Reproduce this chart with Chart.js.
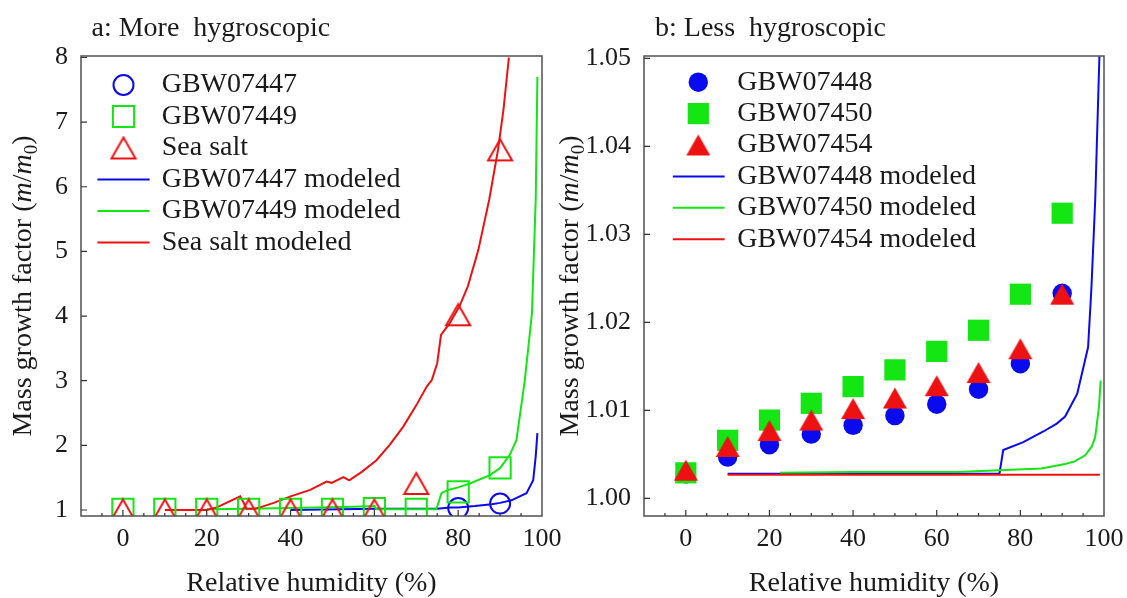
<!DOCTYPE html>
<html lang="en">
<head>
<meta charset="UTF-8" />
<title>Mass growth factor vs relative humidity</title>
<script src="https://cdn.jsdelivr.net/npm/chart.js@4.4.1/dist/chart.umd.min.js"></script>
<style>
  body { margin: 0; background: #fff; }
  #wrap { position: relative; width: 1127px; height: 598px; }
  canvas { position: absolute; top: 0; }
  #chartA { left: 0; }
  #chartB { left: 556px; }
</style>
</head>
<body>
<div id="wrap">
  <canvas id="chartA" width="580" height="598"></canvas>
  <canvas id="chartB" width="571" height="598"></canvas>
</div>

<script>
// ---- panel a: more hygroscopic ----
const rhObs = [0, 10, 20, 30, 40, 50, 60, 70, 80, 90]
const gbw07447RH = [80, 90]
const gbw07447Obs = [1.03, 1.10]
const gbw07449Obs = [1.01, 1.01, 1.01, 1.01, 1.01, 1.01, 1.02, 1.01, 1.28, 1.65]
const seaSaltObs = [1.0, 1.0, 1.0, 1.0, 1.0, 1.0, 1.0, 1.41, 4.02, 6.57]

const gbw07447ModRH = [40, 60, 75, 78, 80, 84, 88, 90, 92.7, 96.3, 97.9, 98.5, 98.9]
const gbw07447Mod = [1.0, 1.02, 1.02, 1.04, 1.04, 1.06, 1.09, 1.11, 1.15, 1.26, 1.46, 1.83, 2.19]
const gbw07449ModRH = [20, 30, 40, 55, 60, 60.5, 70, 74.8, 76.0, 77.6, 80, 82.8, 87.6, 90, 92.3, 93.9, 95.9, 97.6, 98.5, 98.9]
const gbw07449Mod = [1.01, 1.02, 1.03, 1.05, 1.06, 1.01, 1.01, 1.01, 1.26, 1.31, 1.35, 1.41, 1.54, 1.65, 1.85, 2.08, 3.01, 4.04, 5.8, 7.7]
const seaSaltModRH = [10, 20, 22.4, 28.0, 28.6, 29.5, 31.5, 32.7, 36, 40, 44.7, 48.6, 49.8, 52.6, 54.0, 57.0, 60.5, 63.7, 66.9, 70.1, 72.5, 73.7, 75.0, 75.9, 78.0, 80.3, 82.3, 84.8, 87.4, 89.5, 90.8, 92.1]
const seaSaltMod = [1.0, 1.0, 1.04, 1.21, 1.14, 1.02, 1.02, 1.04, 1.11, 1.21, 1.31, 1.44, 1.42, 1.51, 1.46, 1.59, 1.77, 2.01, 2.29, 2.63, 2.91, 3.01, 3.27, 3.71, 3.89, 4.15, 4.46, 5.02, 5.80, 6.57, 7.19, 8.0]

// ---- panel b: less hygroscopic ----
const gbw07448Obs = [1.0028, 1.0047, 1.0061, 1.0073, 1.0083, 1.0094, 1.0107, 1.0124, 1.0153, 1.0233]
const gbw07450Obs = [1.0029, 1.0066, 1.0089, 1.0108, 1.0127, 1.0146, 1.0167, 1.0191, 1.0232, 1.0324]
const gbw07454Obs = [1.0032, 1.0059, 1.0077, 1.0089, 1.0102, 1.0114, 1.0128, 1.0143, 1.0170, 1.0232]

const gbw07448ModRH = [10, 75, 75.9, 80.7, 85.5, 88.7, 90.7, 93.6, 96.2, 97.0, 97.9, 98.9]
const gbw07448Mod = [1.0028, 1.0028, 1.0055, 1.0064, 1.0076, 1.0085, 1.0093, 1.0119, 1.0172, 1.0240, 1.0339, 1.0502]
const gbw07450ModRH = [22.5, 40, 65, 75, 85, 90.7, 93, 95.5, 97.1, 97.9, 98.8, 99.2]
const gbw07450Mod = [1.0029, 1.0030, 1.0030, 1.0032, 1.0034, 1.0039, 1.0042, 1.0049, 1.0059, 1.0070, 1.0104, 1.0134]
const gbw07454ModRH = [10, 99]
const gbw07454Mod = [1.0027, 1.0027]

const xTickVals = [0, 20, 40, 60, 80, 100]
const yTickValsA = [1, 2, 3, 4, 5, 6, 7, 8]
const yTickValsB = [1.00, 1.01, 1.02, 1.03, 1.04, 1.05]

const BLUE = '#0a0af0'
const GREEN = '#14e614'
const RED = '#ee1111'
const SERIF = '"Liberation Serif", "Times New Roman", serif'

Chart.defaults.font.family = SERIF
Chart.defaults.color = '#1a1a1a'

function pts(xs, ys) {
  return xs.map((x, i) => ({ x: x, y: ys[i] }))
}

// triangle marker centred on its bounding box (like the original software)
function triangleImg(filled) {
  const w = 24, h = 21
  const c = document.createElement('canvas')
  c.width = w + 4
  c.height = h + 4
  const g = c.getContext('2d')
  g.beginPath()
  g.moveTo(c.width / 2, 2)
  g.lineTo(c.width / 2 + w / 2, 2 + h)
  g.lineTo(c.width / 2 - w / 2, 2 + h)
  g.closePath()
  if (filled) {
    g.fillStyle = RED
    g.fill()
  } else {
    g.strokeStyle = RED
    g.lineWidth = 2
    g.stroke()
  }
  return c
}
const triHollow = triangleImg(false)
const triFilled = triangleImg(true)

function drawMarker(ctx, ds, x, y) {
  const style = ds.pointStyle
  const r = ds.pointRadius
  ctx.save()
  ctx.lineWidth = ds.pointBorderWidth
  ctx.strokeStyle = ds.pointBorderColor
  ctx.fillStyle = ds.pointBackgroundColor
  if (style instanceof HTMLCanvasElement) {
    ctx.drawImage(style, x - style.width / 2, y - style.height / 2)
  } else if (style === 'circle') {
    ctx.beginPath()
    ctx.arc(x, y, r, 0, Math.PI * 2)
    ctx.fill()
    if (ds.pointBorderWidth) ctx.stroke()
  } else if (style === 'rect') {
    const s = r * Math.SQRT1_2
    ctx.beginPath()
    ctx.rect(x - s, y - s, 2 * s, 2 * s)
    ctx.fill()
    if (ds.pointBorderWidth) ctx.stroke()
  }
  ctx.restore()
}

function drawYTitle(ctx, baseX, midY) {
  const parts = [
    { t: 'Mass growth factor (', f: '28px ' + SERIF, dy: 0 },
    { t: 'm', f: 'italic 28px ' + SERIF, dy: 0 },
    { t: '/', f: '28px ' + SERIF, dy: 0 },
    { t: 'm', f: 'italic 28px ' + SERIF, dy: 0 },
    { t: '0', f: '19px ' + SERIF, dy: 6 },
    { t: ')', f: '28px ' + SERIF, dy: 0 },
  ]
  let total = 0
  parts.forEach((p) => {
    ctx.font = p.f
    p.w = ctx.measureText(p.t).width
    total += p.w
  })
  ctx.save()
  ctx.translate(baseX, midY)
  ctx.rotate(-Math.PI / 2)
  ctx.fillStyle = '#1a1a1a'
  ctx.textBaseline = 'alphabetic'
  ctx.textAlign = 'left'
  let x = -total / 2
  parts.forEach((p) => {
    ctx.font = p.f
    ctx.fillText(p.t, x, p.dy)
    x += p.w
  })
  ctx.restore()
}

function decoPlugin(cfg) {
  return {
    id: 'deco',
    afterDatasetsDraw(chart) {
      const ctx = chart.ctx
      const a = chart.chartArea
      const xs = chart.scales.x
      const ys = chart.scales.y
      ctx.save()

      // frame
      ctx.strokeStyle = '#505050'
      ctx.lineWidth = 1.5
      ctx.strokeRect(a.left, a.top, a.right - a.left, a.bottom - a.top)

      // inward ticks
      ctx.strokeStyle = '#333'
      ctx.lineWidth = 1.2
      ctx.beginPath()
      for (let v = -5; v < 100; v += 5) {
        const px = xs.getPixelForValue(v)
        const len = v % 20 === 0 ? 6 : 3
        ctx.moveTo(px, a.bottom)
        ctx.lineTo(px, a.bottom - len)
      }
      cfg.yTicks.forEach((v) => {
        const py = ys.getPixelForValue(v)
        ctx.moveTo(a.left, py)
        ctx.lineTo(a.left + 6, py)
      })
      ctx.stroke()

      // panel title
      ctx.fillStyle = '#1a1a1a'
      ctx.font = '28px ' + SERIF
      ctx.textAlign = 'left'
      ctx.textBaseline = 'alphabetic'
      ctx.fillText(cfg.title, a.left + cfg.titleDx, 36)

      // y title
      drawYTitle(ctx, cfg.yTitleX, (a.top + a.bottom) / 2)

      // legend inside the plot
      const L = cfg.legend
      chart.data.datasets.forEach((ds, i) => {
        const y = a.top + L.top + i * L.gap
        if (ds.showLine) {
          ctx.strokeStyle = ds.borderColor
          ctx.lineWidth = ds.borderWidth
          ctx.beginPath()
          ctx.moveTo(a.left + L.line0, y)
          ctx.lineTo(a.left + L.line1, y)
          ctx.stroke()
        } else {
          drawMarker(ctx, ds, a.left + L.marker, y)
        }
        ctx.fillStyle = '#1a1a1a'
        ctx.font = '28px ' + SERIF
        ctx.textBaseline = 'middle'
        ctx.fillText(ds.label, a.left + L.text, y)
      })
      ctx.restore()
    },
  }
}

function obsSet(label, data, style, radius, color, filled, order) {
  return {
    label: label,
    data: data,
    showLine: false,
    pointStyle: style,
    pointRadius: radius,
    pointBorderWidth: filled ? 0 : 2,
    pointBorderColor: color,
    pointBackgroundColor: filled ? color : 'rgba(0,0,0,0)',
    borderColor: color,
    backgroundColor: filled ? color : 'rgba(0,0,0,0)',
    order: order,
  }
}

function modSet(label, data, color, order) {
  return {
    label: label,
    data: data,
    showLine: true,
    pointRadius: 0,
    borderWidth: 2,
    borderColor: color,
    backgroundColor: color,
    fill: false,
    tension: 0,
    order: order,
  }
}

function makeChart(id, cfg, datasets) {
  return new Chart(id, {
    type: 'scatter',
    data: { datasets: datasets },
    options: {
      responsive: false,
      animation: false,
      events: [],
      layout: { padding: { top: 56, right: cfg.padRight, bottom: 0, left: 0 } },
      plugins: { legend: { display: false }, tooltip: { enabled: false } },
      scales: {
        x: {
          type: 'linear',
          min: -10,
          max: 100,
          grid: { display: false },
          border: { display: false },
          afterBuildTicks: (s) => { s.ticks = xTickVals.map((v) => ({ value: v })) },
          afterFit: (s) => {
            s.height = 82
            s.paddingLeft = 0
            s.paddingRight = 0
          },
          ticks: {
            autoSkip: false,
            maxRotation: 0,
            padding: 0,
            font: { size: 26 },
            color: '#1a1a1a',
          },
          title: {
            display: true,
            text: 'Relative humidity (%)',
            font: { size: 28, lineHeight: 1 },
            padding: { top: 0, bottom: 0 },
            color: '#1a1a1a',
          },
        },
        y: {
          type: 'linear',
          min: cfg.yMin,
          max: cfg.yMax,
          grid: { display: false },
          border: { display: false },
          afterBuildTicks: (s) => { s.ticks = cfg.yTicks.map((v) => ({ value: v })) },
          afterFit: (s) => {
            s.width = cfg.yWidth
            s.paddingTop = 0
            s.paddingBottom = 0
          },
          ticks: {
            autoSkip: false,
            padding: 5,
            font: { size: 26 },
            color: '#1a1a1a',
            callback: cfg.fmt,
          },
        },
      },
    },
    plugins: [decoPlugin(cfg)],
  })
}

makeChart('chartA', {
  title: 'a: More  hygroscopic',
  titleDx: 10.5,
  yTitleX: 31,
  padRight: 38,
  yWidth: 81,
  yMin: 0.907,
  yMax: 8.023,
  yTicks: yTickValsA,
  fmt: (v) => String(v),
  legend: { top: 29, gap: 31.5, marker: 42.5, text: 80.7, line0: 16.4, line1: 68.6 },
}, [
  obsSet('GBW07447', pts(gbw07447RH, gbw07447Obs), 'circle', 10, BLUE, false, 2),
  obsSet('GBW07449', pts(rhObs, gbw07449Obs), 'rect', 15, GREEN, false, 1),
  obsSet('Sea salt', pts(rhObs, seaSaltObs), triHollow, 14, RED, false, 0),
  modSet('GBW07447 modeled', pts(gbw07447ModRH, gbw07447Mod), BLUE, 5),
  modSet('GBW07449 modeled', pts(gbw07449ModRH, gbw07449Mod), GREEN, 4),
  modSet('Sea salt modeled', pts(seaSaltModRH, seaSaltMod), RED, 3),
])

makeChart('chartB', {
  title: 'b: Less  hygroscopic',
  titleDx: 11,
  yTitleX: 22,
  padRight: 23,
  yWidth: 88,
  yMin: 0.998,
  yMax: 1.05026,
  yTicks: yTickValsB,
  fmt: (v) => v.toFixed(2),
  legend: { top: 26.2, gap: 31.4, marker: 54.3, text: 93.2, line0: 28.8, line1: 80.6 },
}, [
  obsSet('GBW07448', pts(rhObs, gbw07448Obs), 'circle', 9.7, BLUE, true, 2),
  obsSet('GBW07450', pts(rhObs, gbw07450Obs), 'rect', 15, GREEN, true, 1),
  obsSet('GBW07454', pts(rhObs, gbw07454Obs), triFilled, 14, RED, true, 0),
  modSet('GBW07448 modeled', pts(gbw07448ModRH, gbw07448Mod), BLUE, 5),
  modSet('GBW07450 modeled', pts(gbw07450ModRH, gbw07450Mod), GREEN, 4),
  modSet('GBW07454 modeled', pts(gbw07454ModRH, gbw07454Mod), RED, 3),
])
</script>
</body>
</html>
